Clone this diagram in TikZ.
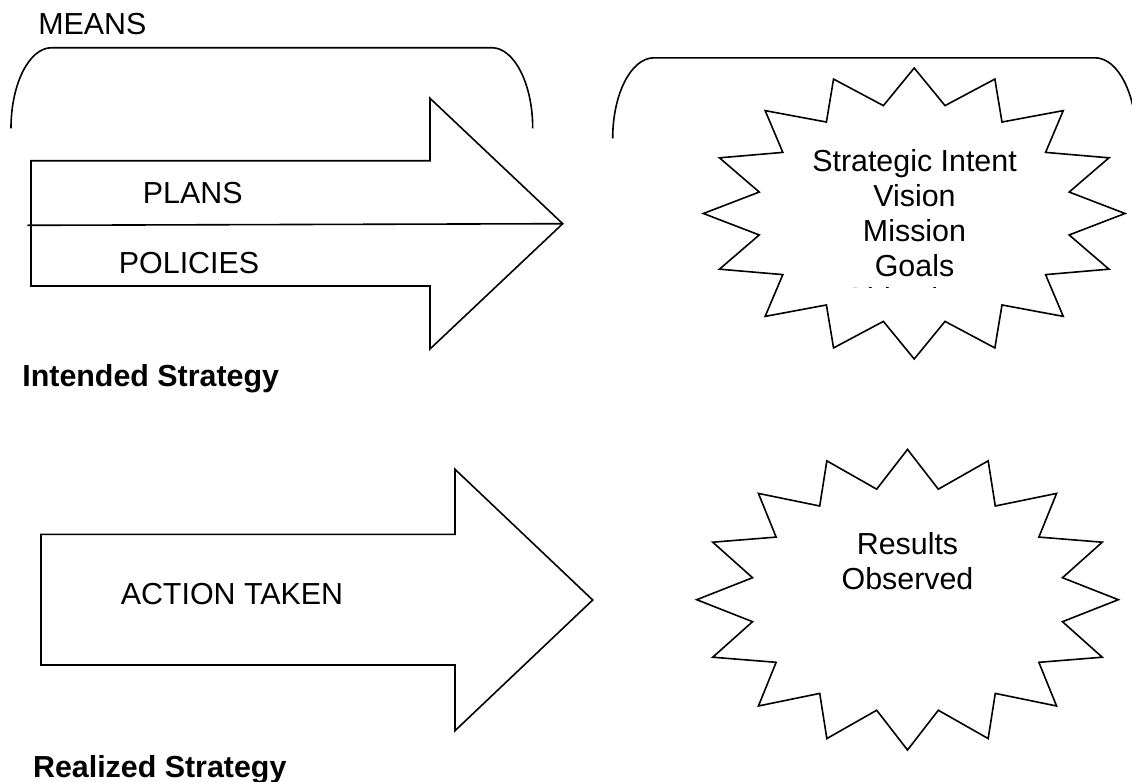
\documentclass[tikz,border=0pt]{standalone}
\usepackage{fontspec}
\setmainfont{Liberation Sans}
\usepackage{tikz}
\tikzstyle{outline} = [line width=1.2pt, draw=black]
\tikzstyle{plaintext} = [inner sep=0pt, anchor=north west, font=\fontsize{22.8}{26.25}\selectfont]
\tikzstyle{headtext} = [plaintext, font=\fontsize{22.8}{26.25}\selectfont\bfseries]
\tikzstyle{bursttext} = [inner sep=0pt, anchor=north, align=center, font=\fontsize{22.8}{26.25}\selectfont]
\def\bro{210.8}
\def\bri{158}
% 16-point burst: centre, outer radii, inner radii
\newcommand{\drawburst}[5]{%
  \draw[outline, shift={#1}] (90:#2 and #3)
    \foreach \k in {1,...,15} {-- ({78.75+22.5*\k}:#4 and #5) -- ({90+22.5*\k}:#2 and #3)}
    -- (78.75:#4 and #5) -- cycle;}

\begin{document}
\begin{tikzpicture}[x=0.75pt, y=-0.75pt]
\path[use as bounding box, clip] (0,0) rectangle (1132,782);

% intended strategy
\node (means) [plaintext] at (38,12.7) {MEANS};
\draw[outline] (11,128.3) .. controls (11,83.8) and (29.2,47.7) .. (51.7,47.7) -- (491.7,47.7) .. controls (514.2,47.7) and (532.7,83.8) .. (532.7,128.3);
\draw[outline] (612.7,138.3) .. controls (612.7,93.9) and (631.2,57.8) .. (654,57.8) -- (1095,57.8) .. controls (1117.8,57.8) and (1136.3,93.9) .. (1136.3,138.3);

\coordinate (tip1) at (562.7,223.7);
\coordinate (split) at (27.3,225.3);
\draw[outline] (31,160.7) -- (430,160.7) -- (430,98.3) -- (tip1) -- (430,349) -- (430,286) -- (31,286) -- cycle;
\draw[outline] (split) -- (tip1);
\node (plans) [plaintext] at (142.7,181.7) {PLANS};
\node (policies) [plaintext] at (118.7,251.7) {POLICIES};
\node (intended) [headtext] at (22.1,364.3) {Intended Strategy};

\drawburst{(914.2,213.5)}{\bro}{145.5}{\bri}{110}
\node (intent) [bursttext] at (914.5,149.6) {Strategic Intent\\Vision\\Mission\\Goals};
\begin{scope}
\clip (700,250) rectangle (1130,287.8);
\node (objectives) [bursttext] at (914.5,286.8) {Objectives};
\end{scope}

% realized strategy
\draw[outline] (41,534.3) -- (455,534.3) -- (455,469.3) -- (592.7,600) -- (455,730.7) -- (455,665) -- (41,665) -- cycle;
\node (action) [plaintext] at (120.5,583.3) {ACTION TAKEN};
\node (realized) [headtext] at (32.8,755) {Realized Strategy};

\drawburst{(907.5,599.7)}{\bro}{150.3}{\bri}{112.7}
\node (results) [bursttext] at (907.5,532.3) {Results\\Observed};

\end{tikzpicture}
\end{document}
